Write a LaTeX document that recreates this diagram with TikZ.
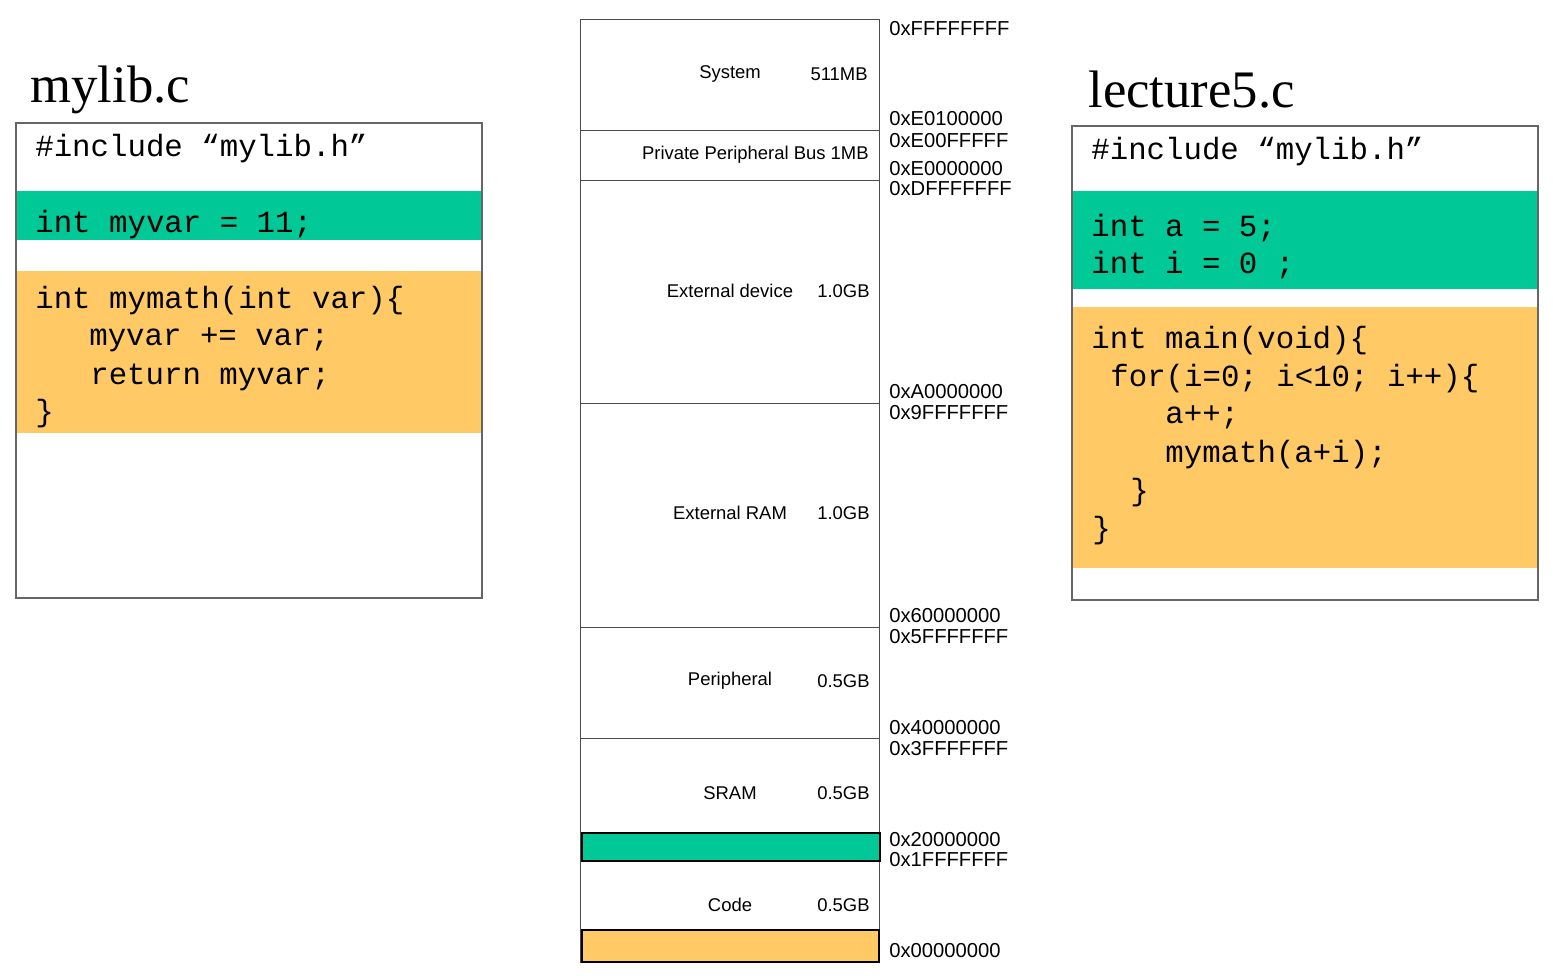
\documentclass[tikz,border=0pt]{standalone}
\usepackage{fontspec}
\setmainfont{Liberation Serif}
\setsansfont{Liberation Sans}
\newfontfamily\codefont{Liberation Mono}
\definecolor{codegreen}{HTML}{00C896}
\definecolor{codeorange}{HTML}{FFC966}
\tikzset{
  code/.style={anchor=west, inner sep=0pt, font=\codefont\fontsize{17.5}{20}\selectfont},
  title/.style={anchor=west, inner sep=0pt, font=\rmfamily\fontsize{30}{34}\selectfont},
  addr/.style={anchor=west, inner sep=0pt, font=\sffamily\fontsize{11.5}{13}\selectfont},
  region/.style={inner sep=0pt, font=\sffamily\fontsize{10.5}{12}\selectfont},
  size/.style={anchor=east, inner sep=0pt, font=\sffamily\fontsize{10.5}{12}\selectfont},
  frame/.style={draw=black!60, line width=0.8pt}
}
\begin{document}
\begin{tikzpicture}[x=0.02cm, y=-0.02cm]
  \useasboundingbox (0,0) rectangle (1553,975);

  % mylib.c
  \node[title] (libtitle) at (30,90) {mylib.c};
  \fill[codegreen] (16,191) rectangle (482,240);
  \fill[codeorange] (16,271) rectangle (482,433);
  \draw[frame] (16,123) rectangle (482,598);
  \node[code] (lib1) at (35,149) {\#include “mylib.h”};
  \node[code] (lib2) at (35,225) {int myvar = 11;};
  \node[code] (lib3) at (35,301) {int mymath(int var)\{};
  \node[code] (lib4) at (89,340) {myvar += var;};
  \node[code] (lib5) at (90,377) {return myvar;};
  \node[code] (lib6) at (35,414) {\}};

  % lecture5.c
  \node[title] (lectitle) at (1088,90) {lecture5.c};
  \fill[codegreen] (1072,191) rectangle (1538,289);
  \fill[codeorange] (1072,307) rectangle (1538,568);
  \draw[frame] (1072,126) rectangle (1538,600);
  \node[code] (lec1) at (1091,152) {\#include “mylib.h”};
  \node[code] (lec2) at (1091,228) {int a = 5;};
  \node[code] (lec3) at (1091,265) {int i = 0 ;};
  \node[code] (lec4) at (1091,341) {int main(void)\{};
  \node[code] (lec5) at (1110,379) {for(i=0; i<10; i++)\{};
  \node[code] (lec6) at (1165,417) {a++;};
  \node[code] (lec7) at (1165,455) {mymath(a+i);};
  \node[code] (lec8) at (1130,493) {\}};
  \node[code] (lec9) at (1092,531) {\}};

  % memory map
  \draw[black!70] (580,19) rectangle (879,962);
  \foreach \y in {130,180,403,627,738}
    \draw[black!70] (580,\y) -- (879,\y);
  \filldraw[fill=codegreen, draw=black, line width=0.8pt] (582,833) rectangle (880,861);
  \filldraw[fill=codeorange, draw=black, line width=0.8pt] (582,930) rectangle (879,962);

  \node[region] (sys) at (730,74) {System};
  \node[size] (syssz) at (868,74) {511MB};
  \node[size] (ppb) at (869,155) {Private Peripheral Bus 1MB};
  \node[region] (ext) at (730,291) {External device};
  \node[size] (extsz) at (870,291) {1.0GB};
  \node[region] (ram) at (730,513) {External RAM};
  \node[size] (ramsz) at (870,513) {1.0GB};
  \node[region] (per) at (730,681) {Peripheral};
  \node[size] (persz) at (870,681) {0.5GB};
  \node[region] (sram) at (730,793) {SRAM};
  \node[size] (sramsz) at (870,793) {0.5GB};
  \node[region] (code) at (730,905) {Code};
  \node[size] (codesz) at (870,905) {0.5GB};

  \foreach \a/\y [count=\i] in {FFFFFFFF/29, E0100000/119, E00FFFFF/141, E0000000/169,
      DFFFFFFF/189, A0000000/392, 9FFFFFFF/413, 60000000/616, 5FFFFFFF/637,
      40000000/728, 3FFFFFFF/749, 20000000/840, 1FFFFFFF/860, 00000000/951}
    \node[addr] (addr\i) at (889,\y) {0x\a};
\end{tikzpicture}
\end{document}
